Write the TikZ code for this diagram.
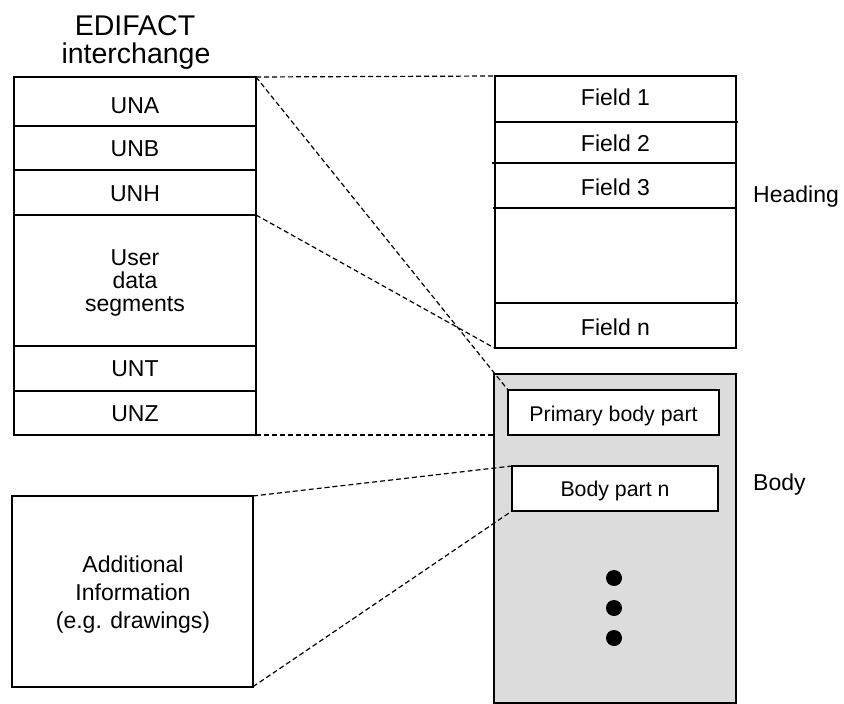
\documentclass[tikz,border=0pt]{standalone}
\usepackage{fontspec}
\setmainfont{Liberation Sans}
\definecolor{bodygray}{RGB}{220,220,220}
\begin{document}
\begin{tikzpicture}[x=1pt,y=-1pt,
  cell/.style={draw=black, line width=1.9pt, fill=white, inner sep=0pt, outer sep=0pt},
  lbl/.style={inner sep=0pt, anchor=base, font=\fontsize{23}{27}\selectfont},
  slbl/.style={inner sep=0pt, anchor=base, font=\fontsize{21.3}{25}\selectfont},
  ttl/.style={inner sep=0pt, anchor=base, font=\fontsize{28.5}{32}\selectfont},
  conn/.style={draw=black, line width=1.2pt, dash pattern=on 5pt off 3pt},
  dot/.style={circle, fill=black, inner sep=0pt, minimum size=16pt}]
\useasboundingbox (0,0) rectangle (844,704);

% title
\node[ttl] (t1) at (135,35) {EDIFACT};
\node[ttl] (t2) at (136,63) {interchange};

% left stack
\node[cell, minimum width=242pt, minimum height=48.7pt] (una) at (135,101.35) {};
\node[cell, minimum width=242pt, minimum height=44.6pt] (unb) at (135,148) {};
\node[cell, minimum width=242pt, minimum height=44.7pt] (unh) at (135,192.65) {};
\node[cell, minimum width=242pt, minimum height=130.7pt] (user) at (135,280.35) {};
\node[cell, minimum width=242pt, minimum height=45.3pt] (unt) at (135,368.35) {};
\node[cell, minimum width=242pt, minimum height=44pt] (unz) at (135,413) {};
\node[lbl] (luna) at (135,113.3) {UNA};
\node[lbl] (lunb) at (135,156.7) {UNB};
\node[lbl] (lunh) at (135,201.7) {UNH};
\node[lbl] (luser1) at (135,265) {User};
\node[lbl] (luser2) at (135,288.3) {data};
\node[lbl] (luser3) at (135,311.7) {segments};
\node[lbl] (lunt) at (135,376.7) {UNT};
\node[lbl] (lunz) at (135,421.7) {UNZ};

% heading stack
\node[cell, minimum width=241pt, minimum height=45.7pt] (f1) at (615.5,98.85) {};
\node[cell, minimum width=241pt, minimum height=41.6pt] (f2) at (615.5,142.5) {};
\node[cell, minimum width=241pt, minimum height=45pt] (f3) at (615.5,185.8) {};
\node[cell, minimum width=241pt, minimum height=95pt] (fb) at (615.5,255.8) {};
\node[cell, minimum width=241pt, minimum height=45pt] (fn) at (615.5,325.8) {};
\draw[line width=1.9pt] (f1.south east) -- ++(2,0);
\draw[line width=1.9pt] (f2.south west) -- ++(-3.5,0);
\draw[line width=1.9pt] (f3.south west) -- ++(-2,0);
\draw[line width=1.9pt] (fb.south east) -- ++(2,0);
\node[lbl] (lf1) at (615.5,105) {Field 1};
\node[lbl] (lf2) at (615.5,151.7) {Field 2};
\node[lbl] (lf3) at (615.5,195) {Field 3};
\node[lbl] (lfn) at (615.5,335) {Field n};
\node[lbl, anchor=base west] (heading) at (753,202.7) {Heading};

% body
\node[draw=black, line width=1.6pt, fill=bodygray, inner sep=0pt, outer sep=0pt,
      minimum width=242pt, minimum height=329pt] (body) at (615,538.5) {};
\node[cell, minimum width=211pt, minimum height=45pt] (prim) at (613.5,412.5) {};
\node[cell, minimum width=206pt, minimum height=45pt] (bpn) at (615,488.5) {};
\node[slbl] (lprim) at (613.5,421) {Primary body part};
\node[slbl] (lbpn) at (615,496.7) {Body part n};
\node[dot] (d1) at (614,578) {};
\node[dot] (d2) at (614,608) {};
\node[dot] (d3) at (614,638) {};
\node[lbl, anchor=base west] (bodylbl) at (753,490) {Body};

% additional information
\node[cell, minimum width=241pt, minimum height=190.7pt] (addl) at (132.5,591.35) {};
\node[lbl] (la1) at (133,572) {Additional};
\node[lbl] (la2) at (133,600) {Information};
\node[lbl] (la3) at (133,628) {(e.g. drawings)};

% connectors
\draw[conn] (una.north east) -- (f1.north west);
\draw[conn] (una.north east) -- (prim.north west);
\draw[conn] (user.north east) -- (fn.south west);
\draw[conn] (unz.south east) -- (unz.south east -| body.west);
\draw[conn] (addl.north east) -- (bpn.north west);
\draw[conn] (addl.south east) -- (bpn.south west);
\end{tikzpicture}
\end{document}
